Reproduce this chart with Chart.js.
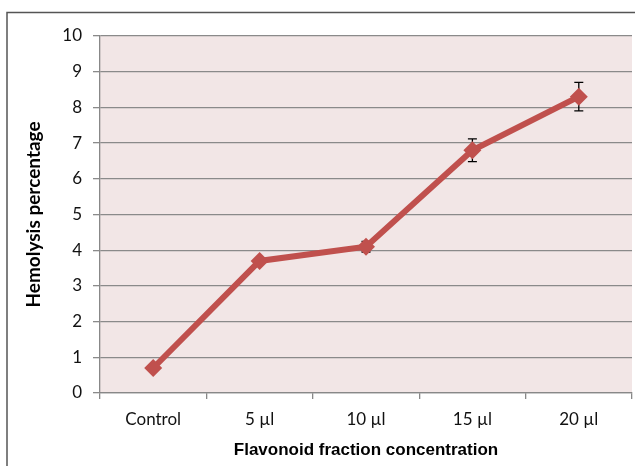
<!DOCTYPE html>
<html>
<head>
<meta charset="utf-8">
<script src="https://cdn.jsdelivr.net/npm/chart.js@4"></script>
<style>
html,body{margin:0;padding:0;background:#fff;}
#wrap{width:635px;height:466px;position:relative;}
</style>
</head>
<body>
<div id="wrap"><canvas id="c" width="635" height="466"></canvas></div>
<script>
const categories = ["Control", "5 µl", "10 µl", "15 µl", "20 µl"];
const hemolysis = [0.7, 3.7, 4.1, 6.8, 8.3];
const errors = [0.0, 0.08, 0.15, 0.32, 0.4];
const yTicks = [0,1,2,3,4,5,6,7,8,9,10];

const bgPlugin = {
  id: 'bg',
  beforeDraw(chart) {
    const {ctx, chartArea: a} = chart;
    ctx.save();
    ctx.fillStyle = '#fff';
    ctx.fillRect(0,0,chart.width,chart.height);
    ctx.fillStyle = '#F2E6E6';
    ctx.fillRect(a.left, a.top, a.right - a.left, a.bottom - a.top);
    ctx.strokeStyle = '#555';
    ctx.lineWidth = 1.5;
    ctx.beginPath();
    ctx.moveTo(7, chart.height);
    ctx.lineTo(7, 12.5);
    ctx.lineTo(chart.width, 12.5);
    ctx.stroke();
    ctx.restore();
  },
  beforeDatasetsDraw(chart) {
    const {ctx} = chart;
    const xs = chart.scales.x, ys = chart.scales.y;
    ctx.save();
    ctx.strokeStyle = '#000';
    ctx.lineWidth = 1.3;
    hemolysis.forEach((v, i) => {
      const e = errors[i];
      if (!e) return;
      const x = xs.getPixelForValue(i);
      const yt = ys.getPixelForValue(v + e);
      const yb = ys.getPixelForValue(v - e);
      ctx.beginPath();
      ctx.moveTo(x, yt); ctx.lineTo(x, yb);
      ctx.moveTo(x - 4.5, yt); ctx.lineTo(x + 4.5, yt);
      ctx.moveTo(x - 4.5, yb); ctx.lineTo(x + 4.5, yb);
      ctx.stroke();
    });
    ctx.restore();
  }
};

new Chart(document.getElementById('c'), {
  type: 'line',
  data: {
    labels: categories,
    datasets: [{
      data: hemolysis,
      borderColor: '#C0504D',
      backgroundColor: '#C0504D',
      borderWidth: 6,
      pointStyle: 'rectRot',
      pointRadius: 9,
      pointHoverRadius: 9,
      pointBorderWidth: 0,
      tension: 0
    }]
  },
  options: {
    responsive: false,
    animation: false,
    events: [],
    layout: { autoPadding: false, padding: { left: 0, top: 36, right: 3, bottom: 0 } },
    plugins: { legend: { display: false }, tooltip: { enabled: false } },
    scales: {
      x: {
        offset: true,
        grid: { offset: true, drawOnChartArea: false, drawTicks: true, tickLength: 6, color: '#888', lineWidth: 1.3 },
        border: { color: '#888', width: 1.3 },
        ticks: { color: '#111', font: { family: 'Lato', size: 17 }, padding: 10 },
        title: { display: true, text: 'Flavonoid fraction concentration', color: '#000',
                 font: { family: 'Liberation Sans', size: 17, weight: 'bold' }, padding: { top: 8, bottom: 5 } },
        afterFit(s) { s.height = 73; s.paddingLeft = 0; s.paddingRight = 0; }
      },
      y: {
        min: 0, max: 10,
        afterBuildTicks(s) { s.ticks = yTicks.map(v => ({value: v})); },
        grid: { color: '#8a8a8a', lineWidth: 1.3, tickLength: 7 },
        border: { color: '#888', width: 1.3 },
        ticks: { color: '#111', font: { family: 'Lato', size: 17 }, padding: 11 },
        title: { display: true, text: 'Hemolysis percentage', color: '#000',
                 font: { family: 'Lato', size: 19, weight: 'bold' }, padding: { top: 22, bottom: 0 } },
        afterFit(s) { s.width = 100; s.paddingTop = 0; s.paddingBottom = 0; }
      }
    }
  },
  plugins: [bgPlugin]
});
</script>
</body>
</html>
